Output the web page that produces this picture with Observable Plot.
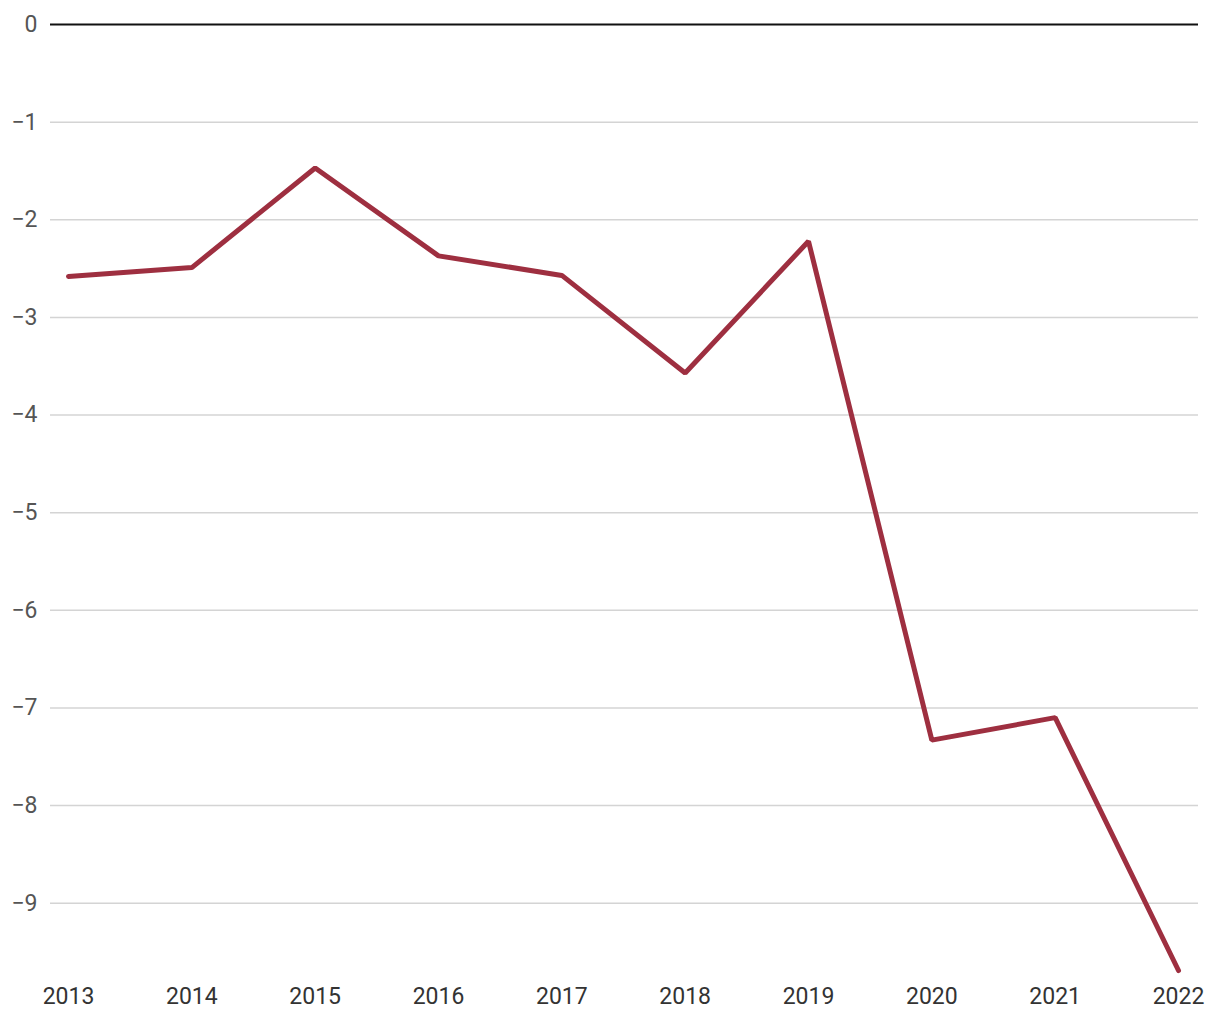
<!DOCTYPE html>
<html>
<head>
<meta charset="utf-8">
<script src="https://cdn.jsdelivr.net/npm/d3@7"></script>
<script src="https://cdn.jsdelivr.net/npm/@observablehq/plot@0.6"></script>
<style>
  html, body { margin: 0; padding: 0; background: #fff; }
  #chart svg { display: block; }
</style>
</head>
<body>
<div id="chart"></div>
<script>
const years = [2013, 2014, 2015, 2016, 2017, 2018, 2019, 2020, 2021, 2022];
const values = [-2.58, -2.49, -1.47, -2.37, -2.57, -3.57, -2.22, -7.33, -7.10, -9.69];
const yTicks = [0, -1, -2, -3, -4, -5, -6, -7, -8, -9];
const gridTicks = [-1, -2, -3, -4, -5, -6, -7, -8, -9];

const data = years.map((year, i) => ({ year, value: values[i] }));

const chart = Plot.plot({
  width: 1220,
  height: 1020,
  marginLeft: 50,
  marginRight: 22,
  marginTop: 24,
  marginBottom: 49,
  style: { fontFamily: "Roboto, sans-serif", fontSize: "23px", color: "#555", background: "#fff" },
  x: { domain: [2013, 2022], range: [68, 1178] },
  y: { domain: [-9.7, 0] },
  marks: [
    Plot.ruleY(gridTicks, { stroke: "#d4d4d4", strokeWidth: 1.5 }),
    Plot.ruleY([0], { stroke: "#111", strokeWidth: 2 }),
    Plot.axisY(yTicks, { tickSize: 0, tickPadding: 13, tickFormat: d => d === 0 ? "0" : "\u2212" + Math.abs(d), fill: "#555", label: null }),
    Plot.axisX(years, { tickSize: 0, tickPadding: 16, tickFormat: d => String(d), fill: "#333", label: null }),
    Plot.line(data, { x: "year", y: "value", stroke: "#9e2f40", strokeWidth: 5, strokeLinejoin: "miter", strokeLinecap: "round" })
  ]
});
document.getElementById("chart").appendChild(chart);
</script>
</body>
</html>
